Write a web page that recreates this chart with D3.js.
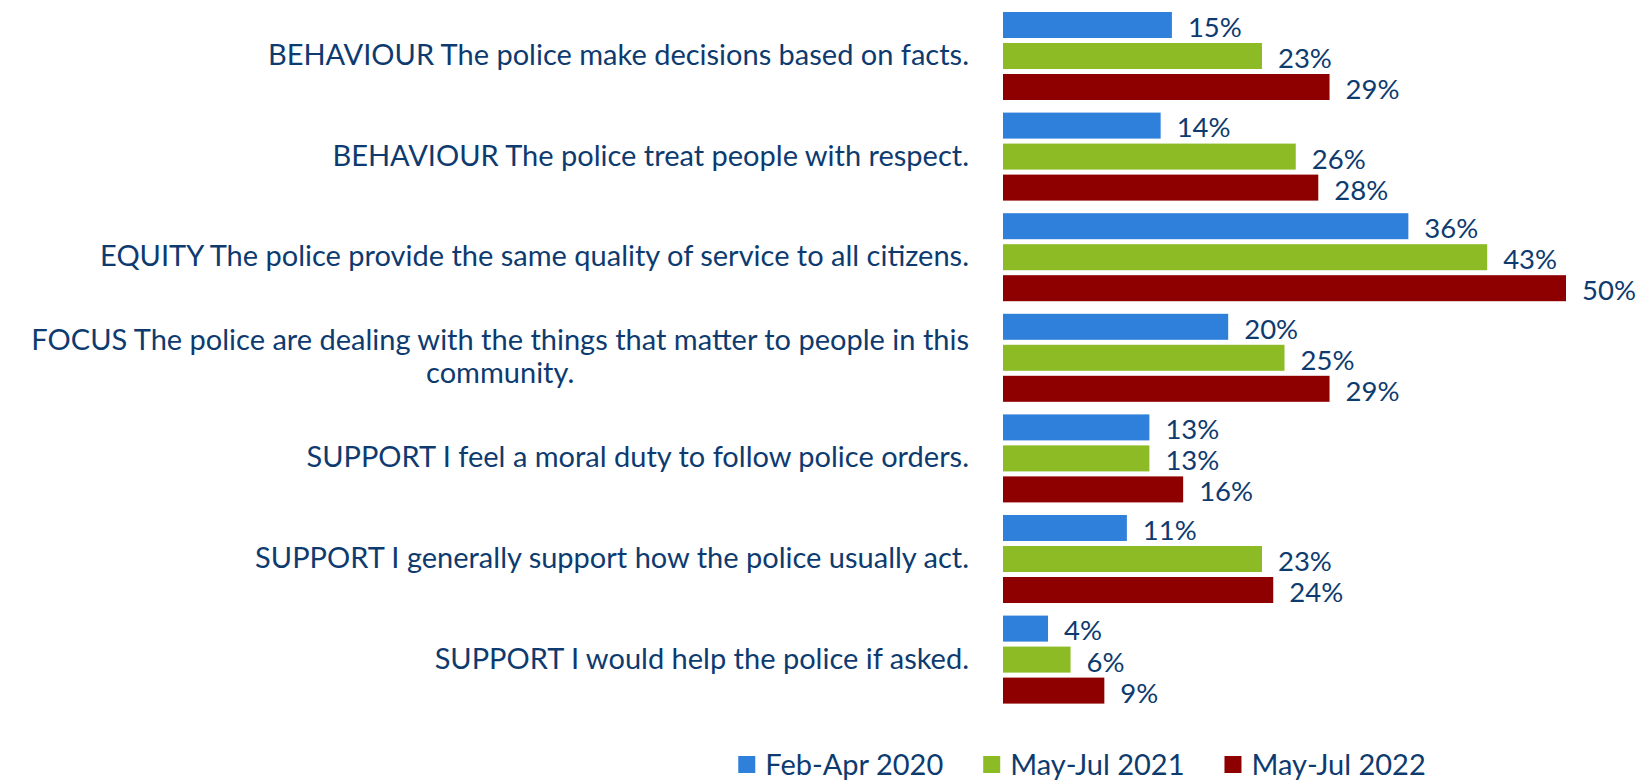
<!DOCTYPE html>
<meta charset="utf-8" />
<title>Police perception survey - D3.js</title>
<style>
  body { margin: 0; background: #fff; }
  text {
    font-family: Lato, "Open Sans", sans-serif;
    fill: #0e3b6f;
  }
  .cat { font-size: 29px; }
  .val { font-size: 27.5px; }
  .leg { font-size: 29px; }
</style>
<body>
<svg width="1640" height="780"></svg>
<script src="https://d3js.org/d3.v7.min.js"></script>
<script>
const width = 1640, height = 780;
const svg = d3.select("svg");

const categories = [
  "BEHAVIOUR The police make decisions based on facts.",
  "BEHAVIOUR The police treat people with respect.",
  "EQUITY The police provide the same quality of service to all citizens.",
  "FOCUS The police are dealing with the things that matter to people in this community.",
  "SUPPORT I feel a moral duty to follow police orders.",
  "SUPPORT I generally support how the police usually act.",
  "SUPPORT I would help the police if asked."
];
const seriesNames = ["Feb-Apr 2020", "May-Jul 2021", "May-Jul 2022"];
const feb2020 = [15, 14, 36, 20, 13, 11, 4];
const may2021 = [23, 26, 43, 25, 13, 23, 6];
const may2022 = [29, 28, 50, 29, 16, 24, 9];
const colors = ["#2f80da", "#8dbb25", "#8e0000"];

const seriesValues = [feb2020, may2021, may2022];

const x = d3.scaleLinear().domain([0, 50]).range([1003, 1566]);
const y = d3.scaleBand().domain(categories).range([5.7, 709.9]);
const inner = d3.scaleBand().domain(seriesNames).range([0, y.bandwidth()])
  .paddingInner(0.161).paddingOuter(0.203);
const color = d3.scaleOrdinal().domain(seriesNames).range(colors);

const rows = [];
categories.forEach((c, i) => {
  seriesNames.forEach((s, j) => {
    rows.push({ cat: c, series: s, value: seriesValues[j][i] });
  });
});

// bars
svg.append("g").selectAll("rect")
  .data(rows).join("rect")
  .attr("x", x(0))
  .attr("y", d => y(d.cat) + inner(d.series))
  .attr("width", d => x(d.value) - x(0))
  .attr("height", inner.bandwidth())
  .attr("fill", d => color(d.series));

// value labels
svg.append("g").selectAll("text")
  .data(rows).join("text")
  .attr("class", "val")
  .attr("x", d => x(d.value) + 16)
  .attr("y", d => y(d.cat) + inner(d.series) + inner.bandwidth() / 2 + 2)
  .attr("dy", "0.36em")
  .text(d => d.value + "%");

// category labels, wrapped and centred on each other, right aligned as a block
const labelRight = 969, maxW = 960, lineH = 33.5;
const catG = svg.append("g");
categories.forEach(c => {
  const t = catG.append("text").attr("class", "cat");
  const words = c.split(" ");
  let lines = [], cur = [];
  words.forEach(w => {
    t.text(cur.concat(w).join(" "));
    if (cur.length && t.node().getComputedTextLength() > maxW) {
      lines.push(cur.join(" "));
      cur = [w];
    } else {
      cur.push(w);
    }
  });
  lines.push(cur.join(" "));
  t.text(null);
  const widths = lines.map(l => { t.text(l); return t.node().getComputedTextLength(); });
  t.text(null);
  const blockW = d3.max(widths);
  const cy = y(c) + y.bandwidth() / 2 - 1.5;
  const cx = labelRight - blockW / 2;
  lines.forEach((l, k) => {
    t.append("tspan")
      .attr("x", cx)
      .attr("y", cy + (k - (lines.length - 1) / 2) * lineH)
      .attr("dy", "0.36em")
      .attr("text-anchor", "middle")
      .text(l);
  });
});

// legend
const legend = svg.append("g");
const sq = 17, sqGap = 10, itemGap = 40;
const items = legend.selectAll("g").data(seriesNames).join("g");
items.append("rect")
  .attr("width", sq).attr("height", sq)
  .attr("y", 764.5 - sq / 2)
  .attr("fill", d => color(d));
items.append("text")
  .attr("class", "leg")
  .attr("x", sq + sqGap)
  .attr("y", 764.5)
  .attr("dy", "0.36em")
  .text(d => d);
const itemW = [];
items.each(function () {
  itemW.push(sq + sqGap + d3.select(this).select("text").node().getComputedTextLength());
});
const total = d3.sum(itemW) + itemGap * (itemW.length - 1);
let lx = 1082 - total / 2;
items.attr("transform", (d, i) => {
  const tx = lx;
  lx += itemW[i] + itemGap;
  return `translate(${tx},0)`;
});
</script>
</body>
